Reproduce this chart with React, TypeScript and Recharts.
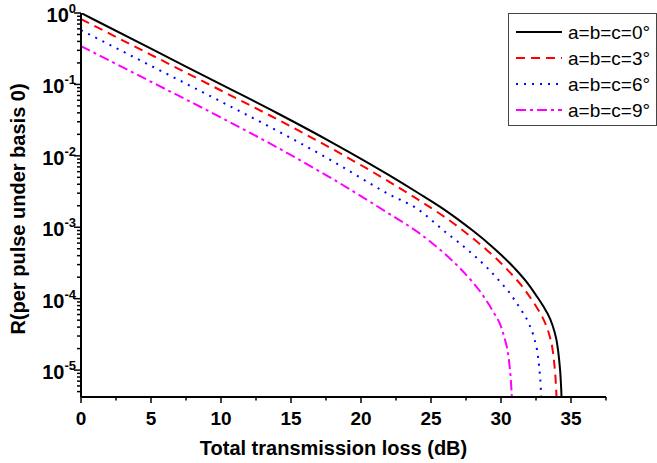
import React from "react";
import { LineChart, Line, XAxis, YAxis, Legend } from "recharts";

// Total transmission loss (dB) and R (per pulse under basis 0) per series
const lossDeg0 = [0, 5, 10, 14, 18, 22, 24, 26, 27, 28, 29, 30, 31, 32, 32.5, 33, 33.5, 33.8, 34.0, 34.15, 34.27, 34.33, 34.36];
const rDeg0 = [1.0, 0.316, 0.1, 0.0398, 0.0151, 0.00537, 0.00309, 0.00174, 0.00126, 0.000891, 0.000617, 0.000412, 0.000263, 0.000155, 0.000112, 7.94e-5, 5.25e-5, 3.55e-5, 2.4e-5, 1.41e-5, 7.08e-6, 3.55e-6, 1e-7];

const lossDeg3 = [0, 5, 10, 14, 18, 22, 24, 26, 27, 28, 29, 30, 31, 31.5, 32, 32.5, 33, 33.3, 33.5, 33.65, 33.8, 33.92, 33.98, 34.01];
const rDeg3 = [0.822, 0.26, 0.0822, 0.0326, 0.01233, 0.00435, 0.00249, 0.00138, 0.000993, 0.000698, 0.000478, 0.000314, 0.000195, 0.00015, 0.00011, 7.85e-5, 5.3e-5, 3.85e-5, 2.88e-5, 2.14e-5, 1.26e-5, 6.3e-6, 3.16e-6, 1e-7];

const lossDeg6 = [0, 5, 10, 14, 18, 22, 24, 26, 27, 28, 29, 30, 30.5, 31, 31.5, 32, 32.4, 32.57, 32.72, 32.84, 32.9, 32.93];
const rDeg6 = [0.575, 0.182, 0.0575, 0.0225, 0.00836, 0.00289, 0.00182, 0.000867, 0.000608, 0.000415, 0.000272, 0.000167, 0.000129, 9.4e-5, 6.67e-5, 4.45e-5, 2.67e-5, 1.92e-5, 1.13e-5, 5.66e-6, 2.84e-6, 1e-7];

const lossDeg9 = [0, 5, 10, 14, 18, 22, 24, 25, 26, 27, 28, 28.5, 29, 29.5, 30, 30.3, 30.47, 30.62, 30.74, 30.8, 30.83];
const rDeg9 = [0.344, 0.109, 0.0344, 0.01315, 0.00471, 0.00155, 0.000871, 0.000617, 0.000422, 0.000275, 0.000168, 0.000127, 9.12e-5, 6.31e-5, 4.07e-5, 2.59e-5, 1.86e-5, 1.1e-5, 5.5e-6, 2.75e-6, 1e-7];

const seriesNames = ["a=b=c=0\u00B0", "a=b=c=3\u00B0", "a=b=c=6\u00B0", "a=b=c=9\u00B0"];

const xTicks = [0, 2.5, 5, 7.5, 10, 12.5, 15, 17.5, 20, 22.5, 25, 27.5, 30, 32.5, 35, 37.5];
const xMajorLabels = [0, 5, 10, 15, 20, 25, 30, 35];
const yMajorExponents = [0, -1, -2, -3, -4, -5];
const yMinorMultipliers = [2, 3, 4, 5, 6, 7, 8, 9];

const Y_MIN = 4.2e-6;
const Y_MAX = 1;

const yTicks: number[] = [];
for (const e of yMajorExponents) {
  yTicks.push(Math.pow(10, e));
}
for (let e = -6; e < 0; e++) {
  for (const m of yMinorMultipliers) {
    const v = m * Math.pow(10, e);
    if (v >= Y_MIN && v <= Y_MAX) yTicks.push(v);
  }
}
yTicks.sort((a, b) => a - b);

const toData = (loss: number[], r: number[]) => loss.map((l, i) => ({ loss: l, r: r[i] }));

const series = [
  { name: seriesNames[0], data: toData(lossDeg0, rDeg0), color: "#000000", dash: undefined as string | undefined },
  { name: seriesNames[1], data: toData(lossDeg3, rDeg3), color: "#ff0000", dash: "9 6" },
  { name: seriesNames[2], data: toData(lossDeg6, rDeg6), color: "#0000ff", dash: "2 6" },
  { name: seriesNames[3], data: toData(lossDeg9, rDeg9), color: "#ff00ff", dash: "10 4 3 4" },
];

const FONT = "'Liberation Sans', Arial, sans-serif";

const XTick = (props: any) => {
  const { x, y, payload } = props;
  const v = payload.value;
  const major = xMajorLabels.includes(v);
  return (
    <g>
      <line x1={x} x2={x} y1={y} y2={y + (major ? 6 : 3.5)} stroke="#000" strokeWidth={1.5} />
      {major && (
        <text x={x} y={y + 28} textAnchor="middle" fontFamily={FONT} fontWeight="bold" fontSize={19} fill="#000">
          {v}
        </text>
      )}
    </g>
  );
};

const YTick = (props: any) => {
  const { x, y, payload } = props;
  const v = payload.value;
  const lg = Math.log10(v);
  const major = Math.abs(lg - Math.round(lg)) < 1e-9;
  return (
    <g>
      <line x1={x - (major ? 7 : 4)} x2={x} y1={y} y2={y} stroke="#000" strokeWidth={1.5} />
      {major && (
        <text x={x - 5} y={y + 9} textAnchor="end" fontFamily={FONT} fontWeight="bold" fontSize={20} fill="#000">
          <tspan>10</tspan>
          <tspan dy={-9} fontSize={13}>{Math.round(lg)}</tspan>
        </text>
      )}
    </g>
  );
};

const XTitle = (props: any) => {
  const vb = props.viewBox || { x: 0, y: 0, width: 0, height: 0 };
  return (
    <text
      x={vb.x + vb.width / 2 - 10}
      y={vb.y + 58}
      textAnchor="middle"
      fontFamily={FONT}
      fontWeight="bold"
      fontSize={20}
      fill="#000"
    >
      Total transmission loss (dB)
    </text>
  );
};

const YTitle = (props: any) => {
  const vb = props.viewBox || { x: 0, y: 0, width: 0, height: 0 };
  const cx = vb.x + 18;
  const cy = vb.y + vb.height / 2 + 4;
  return (
    <text
      x={cx}
      y={cy}
      transform={`rotate(-90, ${cx}, ${cy})`}
      textAnchor="middle"
      dominantBaseline="central"
      fontFamily={FONT}
      fontWeight="bold"
      fontSize={20}
      fill="#000"
    >
      R(per pulse under basis 0)
    </text>
  );
};

const LegendBox = (props: any) => {
  const { payload } = props;
  return (
    <svg width={149} height={113} style={{ display: "block" }}>
      <rect x={0.5} y={0.5} width={148} height={112} fill="#fff" stroke="#444" strokeWidth={1} />
      {(payload || []).map((p: any, i: number) => {
        const cy = 19 + i * 26;
        return (
          <g key={i}>
            <line
              x1={8}
              x2={54}
              y1={cy}
              y2={cy}
              stroke={p.color}
              strokeWidth={2}
              strokeDasharray={p.payload && p.payload.strokeDasharray}
            />
            <text x={60} y={cy + 7} fontFamily={FONT} fontSize={19} fill="#000">
              {p.value}
            </text>
          </g>
        );
      })}
    </svg>
  );
};

export default function App() {
  return (
    <div style={{ position: "absolute", left: 0, top: 0, width: 657, height: 463, background: "#fff" }}>
      <LineChart width={657} height={463} margin={{ top: 13, right: 51, bottom: 0, left: 0 }}>
        <XAxis
          type="number"
          dataKey="loss"
          domain={[0, 37.5]}
          ticks={xTicks}
          allowDataOverflow
          height={66}
          tickLine={false}
          tickSize={0}
          tickMargin={0}
          interval={0}
          axisLine={{ stroke: "#000", strokeWidth: 2 }}
          tick={<XTick />}
          label={{ content: <XTitle /> }}
        />
        <YAxis
          type="number"
          dataKey="r"
          scale="log"
          domain={[Y_MIN, Y_MAX]}
          ticks={yTicks}
          allowDataOverflow
          width={81}
          tickLine={false}
          tickSize={0}
          tickMargin={0}
          interval={0}
          axisLine={{ stroke: "#000", strokeWidth: 2 }}
          tick={<YTick />}
          label={{ content: <YTitle /> }}
        />
        <Legend
          layout="vertical"
          align="center"
          verticalAlign="middle"
          wrapperStyle={{ left: 508, top: 13, width: 149, height: 113 }}
          content={<LegendBox />}
        />
        {series.map((s) => (
          <Line
            key={s.name}
            name={s.name}
            data={s.data}
            dataKey="r"
            type="monotone"
            stroke={s.color}
            strokeWidth={2}
            strokeDasharray={s.dash}
            dot={false}
            activeDot={false}
            isAnimationActive={false}
          />
        ))}
      </LineChart>
    </div>
  );
}
